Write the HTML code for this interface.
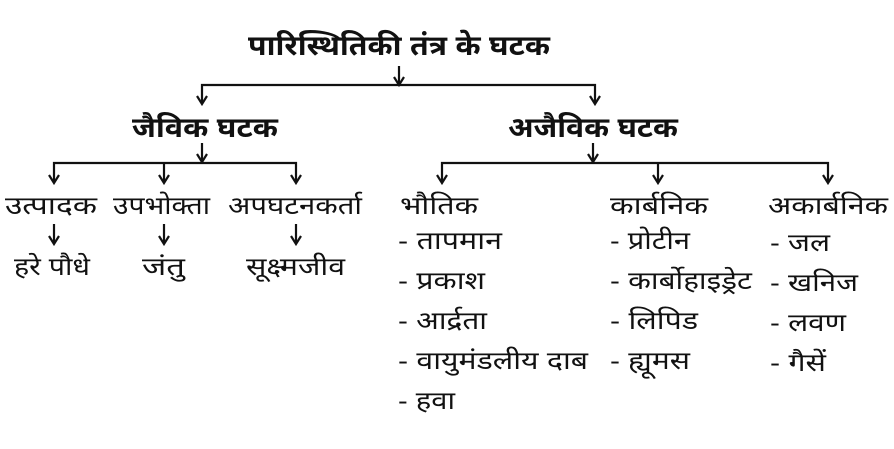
<!DOCTYPE html>
<html><head><meta charset="utf-8"><style>
html,body{margin:0;padding:0;background:#fff;}
svg{display:block}
text{font-family:"Liberation Sans","Noto Sans Devanagari","Lohit Devanagari","FreeSans",sans-serif;fill:#111;}
.b{font-weight:bold;font-size:28px}
.r{font-size:25px}
</style></head><body>
<svg width="894" height="449" viewBox="0 0 894 449" xmlns="http://www.w3.org/2000/svg">
<g stroke="#111" stroke-width="2.2" fill="none">
<line x1="399" y1="66" x2="399" y2="85"/><path d="M394,77 L399,85 L404,77"/>
<polyline points="202,104 202,85 595,85 595,104"/>
<path d="M197,96 L202,104 L207,96 M590,96 L595,104 L600,96"/>
<line x1="202" y1="143" x2="202" y2="162"/><path d="M197,154 L202,162 L207,154"/>
<line x1="593" y1="143" x2="593" y2="162"/><path d="M588,154 L593,162 L598,154"/>
<polyline points="54,183 54,163 296,163 296,183"/>
<line x1="164" y1="163" x2="164" y2="183"/>
<path d="M49,175 L54,183 L59,175 M159,175 L164,183 L169,175 M291,175 L296,183 L301,175"/>
<polyline points="442,183 442,163 828,163 828,183"/>
<line x1="658" y1="163" x2="658" y2="183"/>
<path d="M437,175 L442,183 L447,175 M653,175 L658,183 L663,175 M823,175 L828,183 L833,175"/>
<line x1="54" y1="224" x2="54" y2="244"/><line x1="164" y1="224" x2="164" y2="244"/><line x1="296" y1="224" x2="296" y2="244"/>
<path d="M49,236 L54,244 L59,236 M159,236 L164,244 L169,236 M291,236 L296,244 L301,236"/>
</g>
<text class="b" x="248" y="55" textLength="302" lengthAdjust="spacingAndGlyphs">पारिस्थितिकी तंत्र के घटक</text>
<text class="b" x="132" y="137" textLength="146" lengthAdjust="spacingAndGlyphs">जैविक घटक</text>
<text class="b" x="508" y="137" textLength="170" lengthAdjust="spacingAndGlyphs">अजैविक घटक</text>
<g class="r">
<text x="5" y="214" textLength="92" lengthAdjust="spacingAndGlyphs">उत्पादक</text>
<text x="113" y="214" textLength="97" lengthAdjust="spacingAndGlyphs">उपभोक्ता</text>
<text x="228" y="214" textLength="134" lengthAdjust="spacingAndGlyphs">अपघटनकर्ता</text>
<text x="14" y="275" textLength="76" lengthAdjust="spacingAndGlyphs">हरे पौधे</text>
<text x="142" y="275" textLength="43" lengthAdjust="spacingAndGlyphs">जंतु</text>
<text x="246" y="275" textLength="99" lengthAdjust="spacingAndGlyphs">सूक्ष्मजीव</text>
<text x="400" y="214" textLength="78" lengthAdjust="spacingAndGlyphs">भौतिक</text>
<text x="398" y="249" textLength="104" lengthAdjust="spacingAndGlyphs">- तापमान</text>
<text x="398" y="289" textLength="87" lengthAdjust="spacingAndGlyphs">- प्रकाश</text>
<text x="398" y="329" textLength="89" lengthAdjust="spacingAndGlyphs">- आर्द्रता</text>
<text x="398" y="369" textLength="190" lengthAdjust="spacingAndGlyphs">- वायुमंडलीय दाब</text>
<text x="398" y="409" textLength="57" lengthAdjust="spacingAndGlyphs">- हवा</text>
<text x="610" y="214" textLength="98" lengthAdjust="spacingAndGlyphs">कार्बनिक</text>
<text x="610" y="249" textLength="80" lengthAdjust="spacingAndGlyphs">- प्रोटीन</text>
<text x="610" y="289" textLength="142" lengthAdjust="spacingAndGlyphs">- कार्बोहाइड्रेट</text>
<text x="610" y="329" textLength="88" lengthAdjust="spacingAndGlyphs">- लिपिड</text>
<text x="610" y="369" textLength="80" lengthAdjust="spacingAndGlyphs">- ह्यूमस</text>
<text x="768" y="214" textLength="120" lengthAdjust="spacingAndGlyphs">अकार्बनिक</text>
<text x="770" y="251" textLength="60" lengthAdjust="spacingAndGlyphs">- जल</text>
<text x="770" y="291" textLength="88" lengthAdjust="spacingAndGlyphs">- खनिज</text>
<text x="770" y="331" textLength="76" lengthAdjust="spacingAndGlyphs">- लवण</text>
<text x="770" y="371" textLength="56" lengthAdjust="spacingAndGlyphs">- गैसें</text>
</g>
</svg>
</body></html>
